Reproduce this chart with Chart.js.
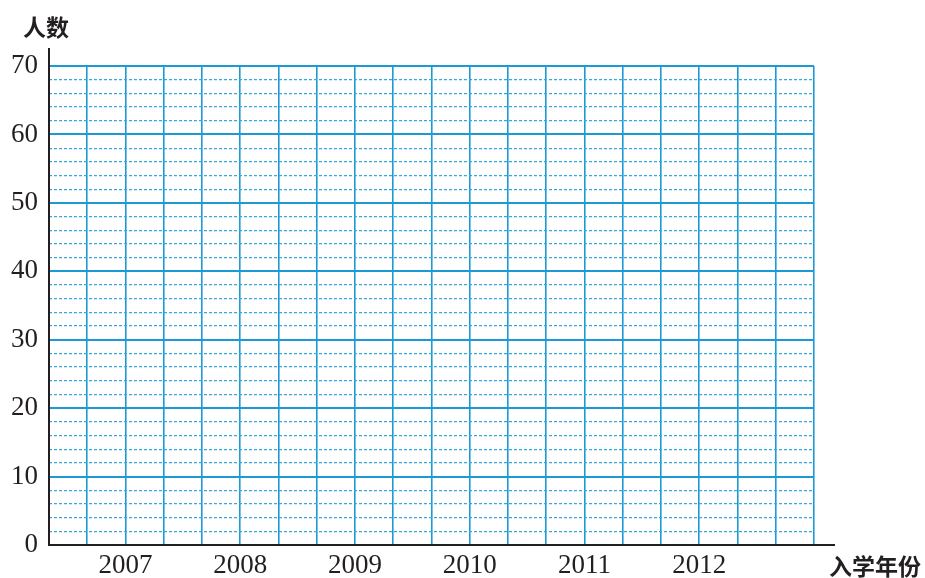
<!DOCTYPE html>
<html lang="zh">
<head>
  <meta charset="UTF-8" />
  <title>入学人数统计图</title>
  <script src="https://cdn.jsdelivr.net/npm/chart.js"></script>
  <style>
    body { margin: 0; background: #fff; }
    canvas { display: block; }
  </style>
</head>
<body>
  <canvas id="grid" width="925" height="578"></canvas>

  <script>
    // les données (le graphique est vide, seulement la grille)
    const years = ['2007', '2008', '2009', '2010', '2011', '2012'];
    const counts = [];            // valeurs à remplir par l'élève
    const yLabels = [0, 10, 20, 30, 40, 50, 60, 70];
    const yTitle = '人数';
    const xTitle = '入学年份';

    const ink = '#231f20';
    const blue = '#1b9ad6';
    const blueLight = '#3aa7dc';

    // axes noirs qui dépassent un peu de la grille + titres des axes
    const axisLines = {
      id: 'axisLines',
      afterDraw(chart) {
        const { ctx, chartArea: a } = chart;
        ctx.save();
        ctx.strokeStyle = ink;
        ctx.lineWidth = 2;
        ctx.beginPath();
        ctx.moveTo(a.left, a.top - 18);
        ctx.lineTo(a.left, a.bottom);
        ctx.lineTo(a.right + 21, a.bottom);
        ctx.stroke();

        ctx.fillStyle = ink;
        ctx.font = 'bold 23px "Noto Sans CJK SC"';
        ctx.textAlign = 'left';
        ctx.textBaseline = 'middle';
        ctx.fillText(yTitle, 23, 27);
        ctx.fillText(xTitle, 829, 566);
        ctx.restore();
      }
    };

    new Chart(document.getElementById('grid'), {
      type: 'line',
      data: {
        datasets: [{ label: yTitle, data: counts, borderColor: ink }]
      },
      options: {
        responsive: false,
        animation: false,
        layout: { padding: { left: 0, top: 66, right: 111, bottom: 0 } },
        plugins: { legend: { display: false }, tooltip: { enabled: false } },
        scales: {
          x: {
            type: 'linear',
            min: 0,
            max: 20,
            afterFit: (s) => { s.height = 33; },
            ticks: {
              stepSize: 1,
              autoSkip: false,
              maxRotation: 0,
              padding: 5,
              color: ink,
              font: { family: '"Liberation Serif"', size: 27 },
              callback: (v) => ((v - 2) % 3 === 0 && v >= 2 && v <= 17) ? years[(v - 2) / 3] : ''
            },
            grid: { color: blue, lineWidth: 1.6, drawTicks: false },
            border: { display: false }
          },
          y: {
            min: 0,
            max: 70,
            afterFit: (s) => { s.width = 49; },
            ticks: {
              stepSize: 2,
              autoSkip: false,
              padding: 11,
              color: ink,
              font: { family: '"Liberation Serif"', size: 27 },
              callback: (v) => yLabels.includes(v) ? String(v) : ''
            },
            grid: {
              drawTicks: false,
              color: (c) => (c.tick && c.tick.value % 10 === 0) ? blue : blueLight,
              lineWidth: (c) => (c.tick && c.tick.value % 10 === 0) ? 2 : 1.2
            },
            border: {
              display: false,
              dash: (c) => (c.tick && c.tick.value % 10 !== 0) ? [3, 2] : []
            }
          }
        }
      },
      plugins: [axisLines]
    });
  </script>
</body>
</html>
